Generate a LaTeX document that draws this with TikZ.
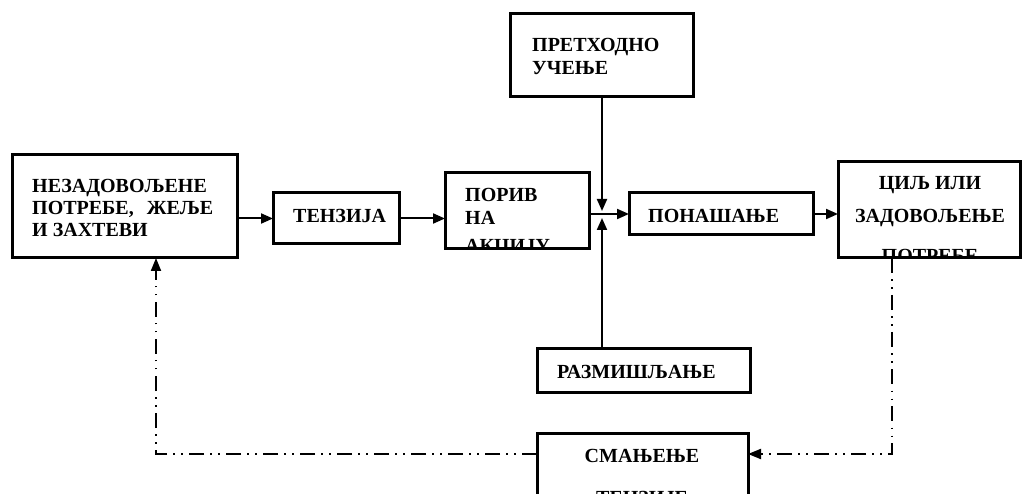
\documentclass[tikz,border=0pt]{standalone}
\usepackage{fontspec}
\setmainfont{Liberation Serif}
\usetikzlibrary{arrows.meta}
\begin{document}
\begin{tikzpicture}[x=1pt,y=-1pt,
  box/.style={draw, line width=3pt, inner sep=0pt, outer sep=0pt},
  lbl/.style={font=\bfseries\fontsize{20}{22}\selectfont, inner sep=0pt, anchor=base west},
  clbl/.style={lbl, anchor=base},
  conn/.style={line width=2pt, -{Triangle[length=12pt,width=10pt]}},
  fb/.style={line width=2pt, dash pattern=on 15pt off 6.5pt on 1.5pt off 6.5pt on 1.5pt off 6pt,
             -{Triangle[length=13pt,width=10pt]}}]
\useasboundingbox (0,0) rectangle (1023,494);

% boxes
\node[box, minimum width=225pt, minimum height=103pt] (b1) at (124.5,206.5) {};
\node[box, minimum width=126pt, minimum height=51pt] (tenz) at (336,218.5) {};
\node[box, minimum width=144pt, minimum height=76pt] (poriv) at (517,211) {};
\node[box, minimum width=184pt, minimum height=42pt] (pon) at (721,214) {};
\node[box, minimum width=182pt, minimum height=96pt] (cilj) at (929,210) {};
\node[box, minimum width=183pt, minimum height=83pt] (pret) at (601.5,55.5) {};
\node[box, minimum width=213pt, minimum height=43pt] (razm) at (643.5,370.5) {};
\node[box, minimum width=211pt, minimum height=87pt] (sman) at (642.5,476.5) {};

% texts
\node[lbl] (t1a) at (32,193) {НЕЗАДОВОЉЕНЕ};
\node[lbl] (t1b) at (32,215) {ПОТРЕБЕ,\hspace{13pt}ЖЕЉЕ};
\node[lbl] (t1c) at (32,237) {И ЗАХТЕВИ};
\node[lbl] (t2) at (293,223) {ТЕНЗИЈА};
\begin{scope}
  \clip (poriv.south west) rectangle (poriv.north east);
  \node[lbl] (t3a) at (465,202) {ПОРИВ};
  \node[lbl] (t3b) at (465,225) {НА};
  \node[lbl] (t3c) at (465,253) {АКЦИЈУ};
\end{scope}
\node[lbl] (t4) at (648,223) {ПОНАШАЊЕ};
\begin{scope}
  \clip (cilj.south west) rectangle (cilj.north east);
  \node[clbl] (t5a) at (930,190) {ЦИЉ ИЛИ};
  \node[clbl] (t5b) at (930,223) {ЗАДОВОЉЕЊЕ};
  \node[clbl] (t5c) at (930,263) {ПОТРЕБЕ};
\end{scope}
\node[lbl] (t6a) at (532,52) {ПРЕТХОДНО};
\node[lbl] (t6b) at (532,75) {УЧЕЊЕ};
\node[lbl] (t7) at (557,378) {РАЗМИШЉАЊЕ};
\node[clbl] (t8a) at (642,462) {СМАЊЕЊЕ};
\node[clbl] (t8b) at (642,504) {ТЕНЗИЈЕ};

% junction coordinates
\coordinate (Jt) at (602,211);
\coordinate (Jb) at (602,218);
\coordinate (R1) at (892,454);
\coordinate (L1) at (156,454);

% connectors
\draw[conn] (b1.east |- tenz.west) -- (tenz.west);
\draw[conn] (tenz.east) -- (tenz.east -| poriv.west);
\draw[conn] (poriv.east |- pon.west) -- (pon.west);
\draw[conn] (Jt |- pret.south) -- (Jt);
\draw[conn] (Jb |- razm.north) -- (Jb);
\draw[conn] (pon.east) -- (pon.east -| cilj.west);

% feedback loop
\draw[fb] (R1 |- cilj.south) -- (R1) -- (R1 -| sman.east);
\draw[fb] (sman.west |- L1) -- (L1) -- (L1 |- b1.south);
\end{tikzpicture}
\end{document}
